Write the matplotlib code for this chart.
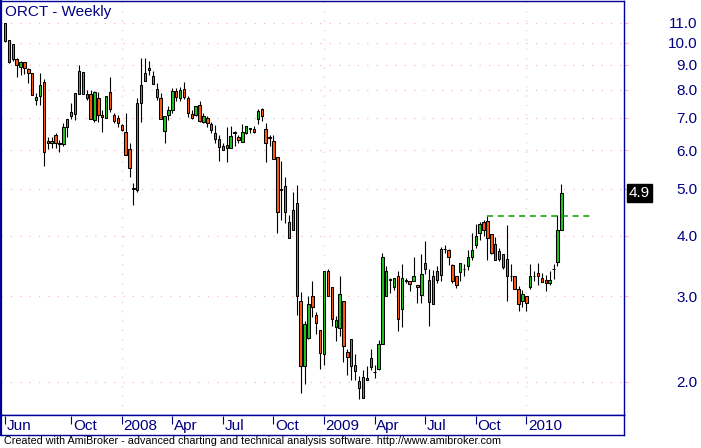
import matplotlib
matplotlib.use('Agg')
import matplotlib.pyplot as plt
import pandas as pd
import numpy as np
from matplotlib.ticker import FixedLocator, FixedFormatter, NullLocator

# weekly OHLC (ORCT, Jun 2007 - Feb 2010)
opens = [11.0, 10.13, 9.93, 9.25, 8.92, 9.11, 8.82, 8.65, 7.62, 7.78,
         8.29, 6.26, 6.20, 6.45, 6.22, 6.18, 6.69, 7.05, 7.12, 7.83,
         8.71, 7.70, 7.83, 6.93, 7.70, 7.10, 6.99, 7.90, 7.10, 6.99,
         6.77, 6.55, 6.04, 5.02, 4.98, 7.50, 8.68, 8.86, 8.54, 8.03,
         7.68, 6.59, 7.10, 7.25, 7.95, 7.70, 8.02, 7.68, 7.12, 7.10,
         7.44, 6.87, 6.99, 6.79, 6.50, 6.32, 6.00, 6.06, 6.08, 6.52,
         6.39, 6.23, 6.50, 6.67, 6.64, 6.95, 7.29, 6.64, 6.39, 6.26,
         5.80, 5.00, 5.06, 4.26, 4.12, 4.67, 2.94, 2.16, 2.46, 3.00,
         2.75, 2.56, 2.28, 3.38, 3.13, 2.59, 2.58, 2.93, 2.30, 2.45,
         2.17, 2.01, 1.85, 2.04, 2.15, 2.09, 2.12, 2.39, 3.00, 3.24,
         3.14, 3.30, 2.83, 3.24, 3.23, 3.22, 3.17, 3.02, 3.41, 3.24,
         2.89, 3.24, 3.32, 3.75, 3.73, 3.48, 3.30, 3.37, 3.41, 3.46,
         3.62, 3.82, 4.06, 4.26, 4.29, 4.04, 3.84, 3.72, 3.66, 3.58,
         3.31, 3.30, 3.10, 2.94, 3.00, 3.13, 3.30, 3.35, 3.28, 3.24,
         3.19, 3.41, 3.53, 4.12]
highs = [11.0, 10.13, 9.93, 9.28, 9.17, 9.11, 8.89, 8.65, 7.87, 8.65,
         8.43, 6.40, 6.40, 6.51, 6.30, 6.82, 6.96, 7.50, 7.87, 8.99,
         8.71, 7.99, 7.99, 7.96, 7.92, 7.27, 7.78, 8.51, 7.18, 7.10,
         6.80, 7.15, 6.20, 5.14, 7.68, 9.29, 9.32, 9.17, 8.75, 8.25,
         7.87, 7.07, 7.39, 8.05, 8.05, 8.09, 8.29, 7.77, 7.25, 7.40,
         7.58, 7.16, 7.05, 6.87, 6.77, 6.46, 6.20, 6.71, 6.74, 6.58,
         6.45, 6.80, 6.75, 6.67, 6.75, 7.29, 7.35, 6.82, 6.46, 6.45,
         5.80, 5.70, 5.28, 4.41, 4.93, 5.09, 3.06, 2.67, 3.00, 3.22,
         2.78, 2.56, 3.38, 3.42, 3.13, 2.73, 3.30, 2.93, 2.34, 2.45,
         2.28, 2.06, 2.11, 2.16, 2.34, 2.17, 2.44, 3.68, 3.47, 3.28,
         3.28, 3.38, 3.49, 3.27, 3.23, 3.61, 3.17, 3.66, 3.90, 3.42,
         3.40, 3.46, 3.79, 3.82, 3.75, 3.50, 3.30, 3.52, 3.49, 3.74,
         4.05, 4.22, 4.27, 4.31, 4.39, 4.04, 3.97, 3.77, 3.66, 4.20,
         3.50, 3.30, 3.15, 3.09, 3.00, 3.50, 3.38, 3.52, 3.35, 3.32,
         3.38, 3.50, 4.42, 5.12]
lows = [10.05, 9.09, 9.17, 8.51, 8.57, 8.61, 8.25, 7.80, 7.44, 7.44,
        5.58, 6.03, 6.06, 6.06, 5.96, 6.12, 6.40, 6.95, 6.93, 7.83,
        7.83, 7.62, 6.95, 6.87, 6.85, 6.53, 6.99, 7.21, 6.84, 6.71,
        6.57, 5.86, 5.28, 4.63, 4.93, 6.87, 8.34, 8.57, 8.22, 7.62,
        6.96, 6.20, 6.93, 7.18, 7.58, 7.58, 7.66, 7.02, 6.95, 7.05,
        6.87, 6.82, 6.71, 6.51, 6.20, 5.71, 6.00, 5.68, 6.08, 6.13,
        6.22, 6.23, 6.47, 6.50, 6.50, 6.81, 6.91, 5.68, 6.13, 5.75,
        4.06, 4.32, 4.25, 3.95, 4.12, 2.75, 1.90, 1.98, 2.45, 2.72,
        2.51, 2.12, 2.17, 3.01, 2.60, 2.43, 2.48, 2.20, 2.07, 2.02,
        2.02, 1.84, 1.85, 2.02, 2.11, 2.04, 2.11, 2.39, 3.00, 3.05,
        3.09, 2.55, 2.59, 3.19, 3.08, 3.22, 2.90, 2.90, 3.33, 2.60,
        2.89, 3.19, 3.22, 3.68, 3.48, 3.19, 3.12, 3.23, 3.31, 3.40,
        3.57, 3.77, 3.92, 3.99, 3.56, 3.66, 3.56, 3.54, 3.42, 2.94,
        3.22, 3.10, 2.80, 2.85, 2.80, 3.11, 3.22, 3.17, 3.21, 3.08,
        3.17, 3.25, 3.46, 4.12]
closes = [10.10, 9.14, 9.25, 8.98, 9.11, 8.86, 8.65, 7.80, 7.73, 8.18,
          5.96, 6.20, 6.26, 6.20, 6.19, 6.69, 6.96, 7.19, 7.87, 8.75,
          7.83, 7.83, 6.95, 7.90, 7.10, 7.02, 7.78, 7.29, 6.90, 6.84,
          6.60, 5.86, 5.53, 4.99, 7.50, 8.18, 8.34, 8.77, 8.22, 7.74,
          6.96, 7.07, 7.27, 7.95, 7.73, 7.99, 7.74, 7.15, 7.01, 7.40,
          6.91, 7.06, 6.82, 6.61, 6.32, 6.10, 6.13, 6.14, 6.41, 6.53,
          6.29, 6.54, 6.73, 6.64, 6.54, 7.22, 7.05, 6.21, 6.37, 5.75,
          4.48, 4.98, 4.48, 3.95, 4.52, 3.00, 2.16, 2.63, 2.89, 2.85,
          2.64, 2.29, 3.38, 3.01, 2.69, 2.68, 3.03, 2.37, 2.25, 2.16,
          2.10, 1.94, 2.05, 2.02, 2.24, 2.09, 2.39, 3.61, 3.39, 3.26,
          3.28, 2.69, 3.27, 3.23, 3.18, 3.30, 3.13, 3.33, 3.52, 2.92,
          3.30, 3.39, 3.76, 3.76, 3.61, 3.22, 3.16, 3.51, 3.41, 3.61,
          3.74, 4.00, 4.23, 4.11, 3.95, 3.68, 3.56, 3.58, 3.45, 3.31,
          3.30, 3.10, 2.89, 3.03, 2.90, 3.30, 3.30, 3.31, 3.21, 3.19,
          3.24, 3.42, 4.11, 4.90]

dates = pd.date_range('2007-06-08', periods=len(closes), freq='W-FRI')

price_levels = [2.0, 3.0, 4.0, 5.0, 6.0, 7.0, 8.0, 9.0, 10.0, 11.0]
month_marks = ['2007-06', '2007-10', '2008-01', '2008-04', '2008-07', '2008-10',
               '2009-01', '2009-04', '2009-07', '2009-10', '2010-01']
month_labels = ['Jun', 'Oct', '2008', 'Apr', 'Jul', 'Oct',
                '2009', 'Apr', 'Jul', 'Oct', '2010']
year_marks = ['2008-01', '2009-01', '2010-01']

# resistance drawn from the Oct 2009 high
level_bar = 124
level_extend = 8

NAVY = '#000080'
FRAME = '#000099'
UP = '#22c422'
DOWN = '#ff5a10'
GRID = '#ffb4cc'

plt.rcParams['font.family'] = ['Liberation Sans', 'DejaVu Sans']

W, H = 701, 448
fig = plt.figure(figsize=(W / 100, H / 100), dpi=100)
ax = fig.add_axes([1 / W, (H - 415) / H, 623 / W, 414 / H])
axd = fig.add_axes([1 / W, (H - 435) / H, 623 / W, 20 / H])

o = np.array(opens)
hi = np.array(highs)
lo = np.array(lows)
c = np.array(closes)
x = np.arange(len(c))


def first_bar(month):
    return int(np.argmax(dates.strftime('%Y-%m') == month))


ax.set_yscale('log')
ax.set_ylim(1.708, 12.19)
ax.set_xlim(-1.03, 159.1)

# grid
for lvl in price_levels:
    ax.axhline(lvl, color=GRID, lw=0.9, ls=(0, (1, 6.5)), zorder=0)
for ym in year_marks:
    ax.axvline(first_bar(ym), color='#e2ccd6', lw=0.9, ls=(0, (1, 6.5)), zorder=0)

# candles
ax.vlines(x, lo, hi, color='black', lw=0.8, zorder=2)
up = c >= o
body_bottom = np.minimum(o, c)
body_h = np.maximum(np.abs(c - o), 0.004)
ax.bar(x, body_h, bottom=body_bottom, width=0.62,
       color=np.where(up, UP, DOWN), edgecolor='black', linewidth=0.75, zorder=3)

# dashed resistance line
lvl = highs[level_bar]
ax.plot([level_bar, len(c) - 1 + level_extend], [lvl, lvl],
        color='#00a000', lw=1.1, ls=(0, (4, 3)), zorder=4)

# y axis on the right
ax.yaxis.set_major_locator(FixedLocator(price_levels))
ax.yaxis.set_major_formatter(FixedFormatter([f'{v:.1f}' for v in price_levels]))
ax.yaxis.set_minor_locator(NullLocator())
ax.tick_params(axis='y', which='major', left=False, labelleft=False,
               right=True, labelright=True, length=3, color=GRID,
               pad=50, labelsize=11, labelcolor=NAVY)
for t in ax.get_yticklabels():
    t.set_horizontalalignment('right')
ax.set_xticks([])

for s in ax.spines.values():
    s.set_color(FRAME)
    s.set_linewidth(1.0)
ax.spines['left'].set_linewidth(1.6)

# last value box
ax.annotate(f'{closes[-1]:.1f}', xy=(1, closes[-1]), xycoords=('axes fraction', 'data'),
            xytext=(3.4, 0), textcoords='offset points', color='white', fontsize=11,
            ha='left', va='center',
            bbox=dict(boxstyle='square,pad=0.12', fc='black', ec='black'))

# date band
axd.set_xlim(ax.get_xlim())
axd.set_ylim(0, 1)
axd.set_xticks([])
axd.set_yticks([])
for s in axd.spines.values():
    s.set_color(FRAME)
    s.set_linewidth(1.0)
axd.spines['left'].set_linewidth(1.6)
for m, lab in zip(month_marks, month_labels):
    p = first_bar(m)
    axd.vlines(p, 0.55, 0.95, color=NAVY, lw=0.8)
    axd.annotate(lab, xy=(p, 0.45), xycoords=('data', 'axes fraction'),
                 xytext=(1.2, 0), textcoords='offset points',
                 ha='left', va='center', color=NAVY, fontsize=11)

fig.text(5 / W, 1 - 12 / H, 'ORCT - Weekly', color=NAVY, fontsize=11,
         ha='left', va='center')
foot = fig.text(4 / W, 1 - 441 / H,
                'Created with AmiBroker - advanced charting and technical analysis software. http://www.amibroker.com',
                color='black', fontsize=8, ha='left', va='center',
                family=['Liberation Sans Narrow', 'Liberation Sans', 'DejaVu Sans'])
fig.canvas.draw()
bw = foot.get_window_extent().width
foot.set_fontsize(8 * 493 / bw)

fig.savefig('out.png', dpi=100)
